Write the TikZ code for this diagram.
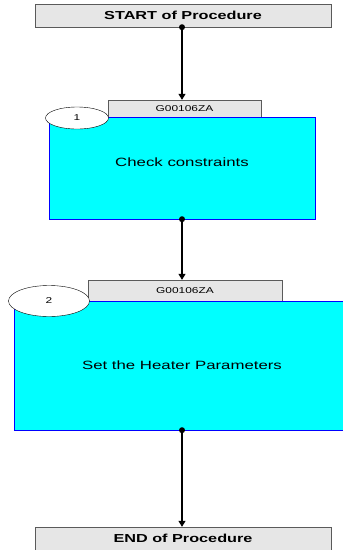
\documentclass[tikz,border=0pt]{standalone}
\usepackage{fontspec}
\setmainfont{Liberation Sans}[FakeStretch=1.4]
\usetikzlibrary{arrows.meta,positioning,shapes.geometric}
\definecolor{procgray}{HTML}{E6E6E6}
\definecolor{edgegray}{HTML}{5A5A5A}
\definecolor{stepcyan}{HTML}{00FFFF}
\tikzset{terminal/.style={rectangle,draw=edgegray,fill=procgray,minimum width=296pt,minimum height=23pt,inner sep=0pt,font=\fontsize{11.6}{13}\selectfont\bfseries},tagbox/.style={rectangle,draw=edgegray,fill=procgray,inner sep=0pt,font=\fontsize{8.5}{10}\selectfont},stepbox/.style={rectangle,draw=blue,fill=stepcyan,inner sep=0pt,font=\fontsize{12}{14}\selectfont},stepnum/.style={ellipse,draw,fill=white,inner sep=0pt,font=\fontsize{8.5}{10}\selectfont},flow/.style={-{Triangle[length=6pt,width=7pt]},line width=1.1pt},every picture/.style={line cap=round}}

\begin{document}
\begin{tikzpicture}[x=1pt,y=-1pt]
\useasboundingbox (0,0) rectangle (343,550);
\node[terminal] (start) at (183,15.5) {START of Procedure};
\node[tagbox,minimum width=153pt,minimum height=17pt] (tagA) at (184.5,108.5) {G00106ZA};
\node[stepbox,minimum width=266pt,minimum height=102pt,label={[font=\fontsize{12}{14}\selectfont,yshift=6pt]center:Check constraints}] (stepA) at (182,168) {};
\node[stepnum,minimum width=63pt,minimum height=22pt] (numA) at (77,118) {1};
\node[tagbox,minimum width=194pt,minimum height=21pt] (tagB) at (185,290.5) {G00106ZA};
\node[stepbox,minimum width=336pt,minimum height=129pt] (stepB) at (182,365.5) {Set the Heater Parameters};
\node[stepnum,minimum width=81pt,minimum height=31pt] (numB) at (49,301) {2};
\node[terminal] (finish) at (183,538.5) {END of Procedure};
\draw[flow] (stepA.south |- start.south) -- (stepA.south |- tagA.north);
\draw[flow] (stepA.south) -- (stepA.south |- tagB.north);
\draw[flow] (stepB.south) -- (stepB.south |- finish.north);
\foreach \p in {stepA.south |- start.south,stepA.south,stepB.south}{\fill (\p) circle (3pt);}
\end{tikzpicture}
\end{document}
